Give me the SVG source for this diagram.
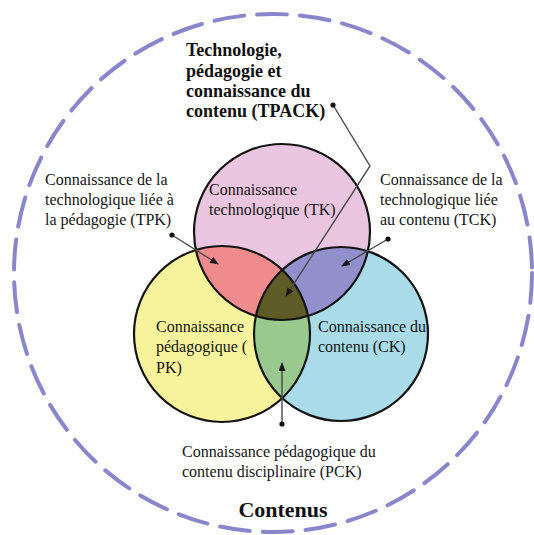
<svg xmlns="http://www.w3.org/2000/svg" width="534" height="535" viewBox="0 0 534 535">
<style>
.bg{fill:#ffffff}
.outer{fill:none;stroke:#8a86cc;stroke-width:4;stroke-dasharray:30 13;stroke-linecap:round}
.ring{fill:none;stroke:#141414;stroke-width:2.2}
.lbl{font-size:16px;fill:#151515}
.title{font-size:18px;font-weight:bold;fill:#111}
.big{font-size:22px;font-weight:bold;fill:#111}
.con{fill:none;stroke:#4a4a4a;stroke-width:1.4}
.dot{fill:#111}
</style>
<defs>
<marker id="arr" markerUnits="userSpaceOnUse" markerWidth="9" markerHeight="7" refX="8" refY="3.5" orient="auto">
<path d="M0,0 L9,3.5 L0,7 z" fill="#1a1a1a"/>
</marker>
<clipPath id="cTK"><circle cx="282" cy="232" r="88"/></clipPath>
<clipPath id="cPK"><circle cx="222" cy="334" r="88"/></clipPath>
</defs>
<rect class="bg" x="0" y="0" width="534" height="535"/>
<g font-family="'Liberation Serif', 'Times New Roman', serif">
<g id="contenus">
<circle class="outer" cx="273" cy="273" r="259"/>
<text class="big" x="283" y="517" text-anchor="middle">Contenus</text>
</g>
<g id="fills">
<circle cx="282" cy="232" r="88" fill="#e9c5df"/>
<circle cx="222" cy="334" r="88" fill="#f7f29c"/>
<circle cx="341" cy="334" r="87" fill="#a9dce8"/>
<g clip-path="url(#cTK)">
<circle cx="222" cy="334" r="88" fill="#f08b8d"/>
<circle cx="341" cy="334" r="87" fill="#9190cc"/>
</g>
<g clip-path="url(#cPK)">
<circle cx="341" cy="334" r="87" fill="#99c98f"/>
</g>
<g clip-path="url(#cTK)">
<g clip-path="url(#cPK)">
<circle cx="341" cy="334" r="87" fill="#5f5b27"/>
</g>
</g>
</g>
<g id="tk">
<circle class="ring" cx="282" cy="232" r="88"/>
<text class="lbl" x="209" y="195">Connaissance</text>
<text class="lbl" x="209" y="215">technologique (TK)</text>
</g>
<g id="pk">
<circle class="ring" cx="222" cy="334" r="88"/>
<text class="lbl" x="156" y="332">Connaissance</text>
<text class="lbl" x="156" y="352">pédagogique (</text>
<text class="lbl" x="156" y="373">PK)</text>
</g>
<g id="ck">
<circle class="ring" cx="341" cy="334" r="87"/>
<text class="lbl" x="318" y="332">Connaissance du</text>
<text class="lbl" x="318" y="352">contenu (CK)</text>
</g>
<g id="tpack">
<text class="title" x="186" y="56">Technologie,</text>
<text class="title" x="186" y="77">pédagogie et</text>
<text class="title" x="186" y="97">connaissance du</text>
<text class="title" x="186" y="117">contenu (TPACK)</text>
</g>
<g id="tpk">
<text class="lbl" x="45" y="185">Connaissance de la</text>
<text class="lbl" x="45" y="205">technologique liée à</text>
<text class="lbl" x="45" y="225">la pédagogie (TPK)</text>
</g>
<g id="tck">
<text class="lbl" x="380" y="185">Connaissance de la</text>
<text class="lbl" x="380" y="205">technologique liée</text>
<text class="lbl" x="380" y="225">au contenu (TCK)</text>
</g>
<g id="pck">
<text class="lbl" x="182" y="457">Connaissance pédagogique du</text>
<text class="lbl" x="182" y="477">contenu disciplinaire (PCK)</text>
</g>
</g>
<g id="connectors">
<polyline class="con" points="333,105 370,166 286,296" marker-end="url(#arr)"/>
<circle class="dot" cx="333" cy="105" r="2.6"/>
<line class="con" x1="172" y1="235" x2="218" y2="264" marker-end="url(#arr)"/>
<circle class="dot" cx="172" cy="235" r="2.6"/>
<line class="con" x1="388" y1="239" x2="342" y2="266" marker-end="url(#arr)"/>
<circle class="dot" cx="388" cy="239" r="2.6"/>
<line class="con" x1="282" y1="424" x2="282" y2="363" marker-end="url(#arr)"/>
<circle class="dot" cx="282" cy="424" r="2.6"/>
</g>
</svg>
